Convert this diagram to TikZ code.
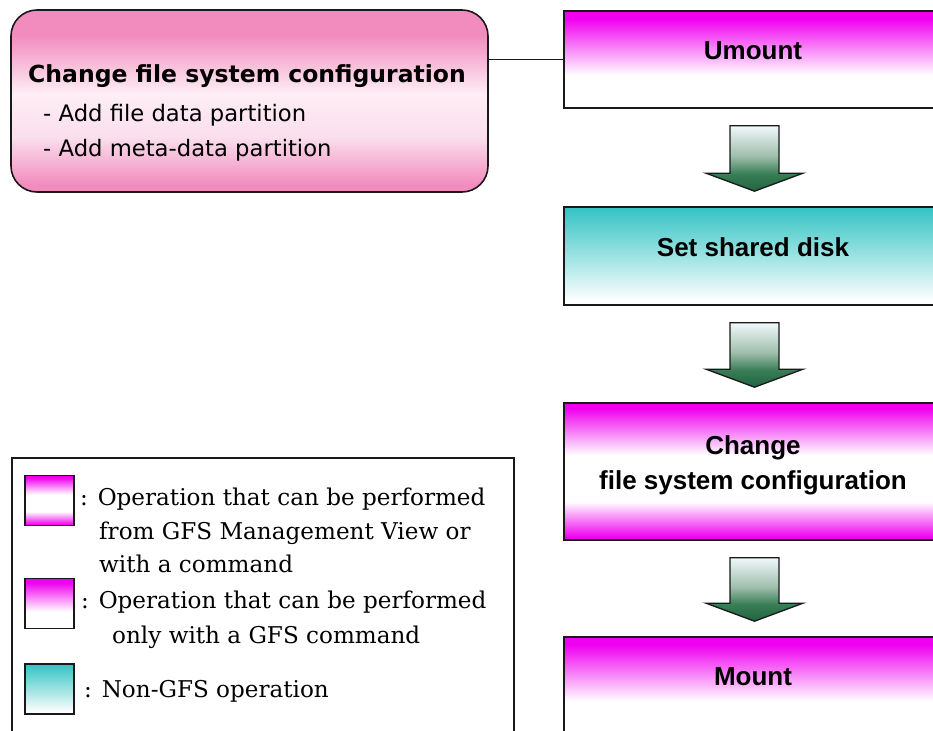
\documentclass[tikz,border=0pt]{standalone}
\usepackage{fontspec}
\newfontfamily\legfont{DejaVu Serif}
\newfontfamily\boxfont{Liberation Sans}
\newfontfamily\dvsans{DejaVu Sans}
\usetikzlibrary{calc}

\definecolor{mag}{RGB}{240,0,240}
\definecolor{tealc}{RGB}{50,195,195}
\definecolor{pinkc}{RGB}{242,140,190}
\definecolor{pinkl}{RGB}{250,222,236}
\definecolor{pinkw}{RGB}{253,238,245}
\definecolor{grnl}{RGB}{240,248,252}
\definecolor{grnm}{RGB}{160,190,172}
\definecolor{grnd}{RGB}{55,125,85}
\definecolor{grnx}{RGB}{35,100,65}
\definecolor{lnc}{RGB}{25,25,25}

\pgfdeclareverticalshading{magwhite}{100bp}{color(0bp)=(white); color(25bp)=(white); color(42bp)=(white); color(71bp)=(mag); color(100bp)=(mag)}
\pgfdeclareverticalshading{magmid}{100bp}{color(0bp)=(mag); color(26bp)=(mag); color(39bp)=(white); color(56bp)=(white); color(73bp)=(mag); color(100bp)=(mag)}
\pgfdeclareverticalshading{tealwhite}{100bp}{color(0bp)=(white); color(27bp)=(white); color(75bp)=(tealc); color(100bp)=(tealc)}
\pgfdeclareverticalshading{pinkmid}{100bp}{color(0bp)=(pinkc); color(27bp)=(pinkc); color(40bp)=(pinkl); color(52bp)=(pinkw); color(68bp)=(pinkc); color(100bp)=(pinkc)}
\pgfdeclareverticalshading{grnarrow}{100bp}{color(0bp)=(grnx); color(25bp)=(grnx); color(38bp)=(grnd); color(52bp)=(grnm); color(75bp)=(grnl); color(100bp)=(grnl)}

\tikzset{
  opbox/.style={draw=lnc, line width=1.6pt, minimum width=378pt, inner sep=0pt},
  btxt/.style={font=\boxfont\bfseries\fontsize{26}{30}\selectfont, anchor=base, inner sep=0pt},
  legt/.style={font=\legfont\fontsize{23.1}{28}\selectfont, anchor=base west, inner sep=0pt},
  swatch/.style={draw=lnc, line width=1.6pt, minimum width=49pt, minimum height=50pt, inner sep=0pt},
  flow/.style={draw=lnc, line width=1.3pt, shading=grnarrow},
}

\newcommand{\flowarrow}[2]{%
  \path[flow] ($(#1.south)+(-23,17)$) -- ($(#1.south)+(26,17)$)
    -- ($(#2.north)+(26,-33)$) -- ($(#2.north)+(50,-33)$)
    -- ($(#2.north)+(1.5,-15)$) -- ($(#2.north)+(-47,-33)$)
    -- ($(#2.north)+(-23,-33)$) -- cycle;}

\begin{document}
\begin{tikzpicture}[x=1pt,y=-1pt]
\useasboundingbox (0,0) rectangle (933,730);
\clip (0,0) rectangle (933,730);
\fill[white] (0,0) rectangle (933,730);

% left configuration box
\node[draw=lnc, line width=1.6pt, rounded corners=26pt, minimum width=477pt, minimum height=182pt, inner sep=0pt, shading=pinkmid] (cfg) at (249.5,101) {};
\node[anchor=base west, inner sep=0pt, font=\dvsans\bfseries\fontsize{23.5}{28}\selectfont] (cfgt) at (28,83) {Change file system configuration};
\node[anchor=base west, inner sep=0pt, font=\dvsans\fontsize{22.7}{28}\selectfont] (cfg1) at (43,122) {- Add file data partition};
\node[anchor=base west, inner sep=0pt, font=\dvsans\fontsize{22.7}{28}\selectfont] (cfg2) at (43,157) {- Add meta-data partition};

% flow boxes
\node[opbox, minimum height=97pt, shading=magwhite] (umount) at (753,59.5) {};
\node[opbox, minimum height=98pt, shading=tealwhite] (disk) at (753,256) {};
\node[opbox, minimum height=137pt, shading=magmid] (change) at (753,471.5) {};
\node[opbox, minimum height=97pt, shading=magwhite] (mount) at (753,685.5) {};

\node[btxt] (tU) at (umount.center) {Umount};
\node[btxt] (tD) at (disk.center) {Set shared disk};
\node[btxt] (tC1) at ($(change.center)+(0,-17.5)$) {Change};
\node[btxt] (tC2) at ($(change.center)+(0,17.5)$) {file system configuration};
\node[btxt] (tM) at (mount.center) {Mount};

\draw[draw=lnc, line width=1.4pt] (cfg.east |- umount.west) -- (umount.west);

\flowarrow{umount}{disk}
\flowarrow{disk}{change}
\flowarrow{change}{mount}

% legend
\node[draw=lnc, line width=1.6pt, minimum width=502pt, minimum height=300pt, anchor=north west, inner sep=0pt] (legend) at (11,457) {};
\node[swatch, shading=magmid] (s1) at (49.5,500.5) {};
\node[swatch, shading=magwhite] (s2) at (49.5,603.5) {};
\node[swatch, shading=tealwhite] (s3) at (49.5,689) {};
\node[legt] (l1) at (80,505) {: Operation that can be performed};
\node[legt] (l2) at (99,539) {from GFS Management View or};
\node[legt] (l3) at (99,572) {with a command};
\node[legt] (l4) at (81,608) {: Operation that can be performed};
\node[legt] (l5) at (112,643) {only with a GFS command};
\node[legt] (l6) at (84,697) {: Non-GFS operation};
\end{tikzpicture}
\end{document}
